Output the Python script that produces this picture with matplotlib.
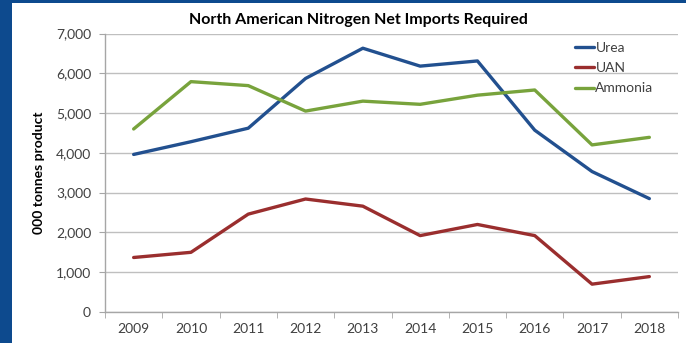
import matplotlib
matplotlib.use("Agg")
import matplotlib.pyplot as plt
from matplotlib.patches import Rectangle
from matplotlib.ticker import FuncFormatter, FixedLocator

plt.rcParams['font.family'] = ['Lato', 'DejaVu Sans']

years = ['2009', '2010', '2011', '2012', '2013', '2014', '2015', '2016', '2017', '2018']
urea = [3960, 4280, 4620, 5870, 6630, 6180, 6310, 4570, 3530, 2850]
uan = [1370, 1500, 2460, 2840, 2660, 1920, 2200, 1920, 700, 890]
ammonia = [4600, 5790, 5690, 5050, 5300, 5220, 5450, 5580, 4200, 4390]

series = [('Urea', urea, '#22508f'), ('UAN', uan, '#9a2e2e'), ('Ammonia', ammonia, '#78a33c')]

fig = plt.figure(figsize=(6.86, 3.43), dpi=100)
fig.patch.set_facecolor('white')

# dark blue frame strips
fig.patches.append(Rectangle((0, 0), 12 / 686, 1, transform=fig.transFigure,
                             facecolor='#0d4a8e', edgecolor='none', zorder=0))
fig.patches.append(Rectangle((0, 1 - 3 / 343), 1, 3 / 343, transform=fig.transFigure,
                             facecolor='#0d4a8e', edgecolor='none', zorder=0))

ax = fig.add_axes([105 / 686, 1 - 312 / 343, (678 - 105) / 686, (312 - 33.5) / 343])

x = list(range(len(years)))
for name, vals, col in series:
    ax.plot(x, vals, color=col, lw=2.4, label=name, solid_capstyle='round', solid_joinstyle='round')

ax.set_xlim(-0.5, len(years) - 0.5)
ax.set_ylim(0, 7000)
ax.set_yticks(range(0, 7001, 1000))
ax.yaxis.set_major_formatter(FuncFormatter(lambda v, p: f'{int(v):,}'))
ax.xaxis.set_major_locator(FixedLocator(x))
ax.set_xticklabels(years)
ax.xaxis.set_minor_locator(FixedLocator([i - 0.5 for i in range(len(years) + 1)]))

ax.grid(axis='y', color='#bfbfbf', lw=1)
ax.set_axisbelow(True)
for s in ['top', 'right']:
    ax.spines[s].set_visible(False)
for s in ['left', 'bottom']:
    ax.spines[s].set_color('#a6a6a6')
    ax.spines[s].set_linewidth(1)

ax.tick_params(axis='x', which='major', length=0, pad=8, labelsize=10, labelcolor='#404040')
ax.tick_params(axis='x', which='minor', length=4, color='#a6a6a6', direction='out')
ax.tick_params(axis='y', length=4, color='#a6a6a6', pad=6, labelsize=10, labelcolor='#404040')

ax.set_ylabel('000 tonnes product', fontsize=10, fontweight='bold', color='black', labelpad=8)

fig.text(358 / 686, 1 - 20 / 343, 'North American Nitrogen Net Imports Required',
         ha='center', va='center', fontsize=11.5, fontweight='bold', color='black')

leg = ax.legend(loc='upper left', bbox_to_anchor=(0.805, 1.0), frameon=False, fontsize=10,
                handlelength=1.4, handletextpad=0.1, labelspacing=0.6, borderaxespad=0.2)
for t in leg.get_texts():
    t.set_color('#404040')

fig.savefig('out.png', dpi=100, facecolor='white')
